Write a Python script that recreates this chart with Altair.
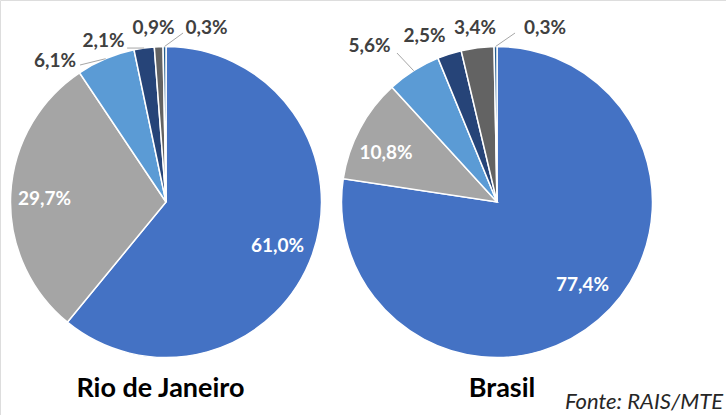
import altair as alt
import pandas as pd

# ---- data ----
categorias = ["Categoria A", "Categoria B", "Categoria C", "Categoria D", "Categoria E", "Categoria F"]
rio_de_janeiro = [61.0, 29.7, 6.1, 2.1, 0.9, 0.3]
brasil = [77.4, 10.8, 5.6, 2.5, 3.4, 0.3]
regioes = ["Rio de Janeiro", "Brasil"]
fonte = "Fonte: RAIS/MTE"
cores = ["#4472C4", "#A5A5A5", "#5B9BD5", "#264478", "#636363", "#255E91"]

rows = []
for reg, vals in zip(regioes, [rio_de_janeiro, brasil]):
    for i, (c, v) in enumerate(zip(categorias, vals)):
        rows.append({"regiao": reg, "categoria": c, "ordem": i, "valor": v,
                     "rotulo": f"{v:.1f}".replace(".", ",") + "%"})
df = pd.DataFrame(rows)

# ---- layout (code only) ----
CX = {"Rio de Janeiro": 166, "Brasil": 497}
CY = 202
R = 155.5
R_IN = 121
FONT = "Lato"

# (regiao, categoria) -> (radius, dx, dy, leader dx/dy or None, color)
label_spec = {
    ("Rio de Janeiro", "Categoria A"): (R_IN, -2.4, 3.7, None, "white"),
    ("Rio de Janeiro", "Categoria B"): (R_IN, -0.6, 2.4, None, "white"),
    ("Rio de Janeiro", "Categoria C"): (R, -50.6, 2.3, (-25.6, 6.3), "#404040"),
    ("Rio de Janeiro", "Categoria D"): (R, -40.6, -7.1, (-17, 0), "#404040"),
    ("Rio de Janeiro", "Categoria E"): (R, -5.2, -18.5, None, "#404040"),
    ("Rio de Janeiro", "Categoria F"): (R, 42, -18.5, (18.5, -13.5), "#404040"),
    ("Brasil", "Categoria A"): (R_IN, 6.6, -8.8, None, "white"),
    ("Brasil", "Categoria B"): (R_IN, -4.2, 8, None, "white"),
    ("Brasil", "Categoria C"): (R, -44.2, -24.7, (-16.7, -17.7), "#404040"),
    ("Brasil", "Categoria D"): (R, -24.9, -17.5, None, "#404040"),
    ("Brasil", "Categoria E"): (R, -2.5, -19.5, None, "#404040"),
    ("Brasil", "Categoria F"): (R, 49.5, -18.5, (19.5, -13.5), "#404040"),
}

color_scale = alt.Scale(domain=categorias, range=cores)


def arcs(reg):
    return (alt.Chart(df)
            .transform_filter(alt.datum.regiao == reg)
            .mark_arc(radius=R, stroke="white", strokeWidth=1.5)
            .encode(theta=alt.Theta("valor:Q", stack=True),
                    color=alt.Color("categoria:N", scale=color_scale, legend=None),
                    order=alt.Order("ordem:Q"),
                    x=alt.value(CX[reg]), y=alt.value(CY)))


def base(reg):
    return (alt.Chart(df)
            .transform_filter(alt.datum.regiao == reg)
            .transform_window(cum="sum(valor)", sort=[alt.SortField("ordem")], frame=[None, 0])
            .transform_joinaggregate(total="sum(valor)")
            .transform_calculate(mid="2*PI*(datum.cum - datum.valor/2)/datum.total"))


layers = [arcs(r) for r in regioes]

for (reg, cat), (rad, dx, dy, leader, col) in label_spec.items():
    b = (base(reg)
         .transform_filter(alt.datum.categoria == cat)
         .transform_calculate(ax=f"{CX[reg]} + {rad}*sin(datum.mid)",
                              ay=f"{CY} - {rad}*cos(datum.mid)"))
    if leader is not None:
        ldx, ldy = leader
        layers.append(
            b.transform_calculate(bx=f"datum.ax + {ldx}", by=f"datum.ay + {ldy}")
            .mark_rule(color="#A6A6A6", strokeWidth=1)
            .encode(x=alt.X("ax:Q", scale=None, axis=None),
                    y=alt.Y("ay:Q", scale=None, axis=None),
                    x2="bx:Q", y2="by:Q"))
    layers.append(
        b.mark_text(dx=dx, dy=dy, font=FONT, fontWeight="bold", fontSize=19,
                    color=col, align="center", baseline="middle")
        .encode(x=alt.X("ax:Q", scale=None, axis=None),
                y=alt.Y("ay:Q", scale=None, axis=None),
                text="rotulo:N"))

# region titles
title_pos = {"Rio de Janeiro": 160.5, "Brasil": 502}
for reg in regioes:
    layers.append(
        alt.Chart(pd.DataFrame({"t": [reg]}))
        .mark_text(font=FONT, fontWeight="bold", fontSize=27, color="#000000",
                   align="center", baseline="alphabetic")
        .encode(text="t:N", x=alt.value(title_pos[reg]), y=alt.value(397)))

layers.append(
    alt.Chart(pd.DataFrame({"t": [fonte]}))
    .mark_text(font=FONT, fontStyle="italic", fontSize=22, color="#262626",
               align="right", baseline="alphabetic")
    .encode(text="t:N", x=alt.value(723), y=alt.value(409)))

chart = (alt.layer(*layers)
         .resolve_scale(theta="independent")
         .properties(width=726, height=415, padding=0,
                     autosize=alt.AutoSizeParams(type="none"))
         .configure_view(stroke=None)
         .configure(background="white"))

chart.save("out.html", embed_options={"renderer": "svg", "actions": False})
